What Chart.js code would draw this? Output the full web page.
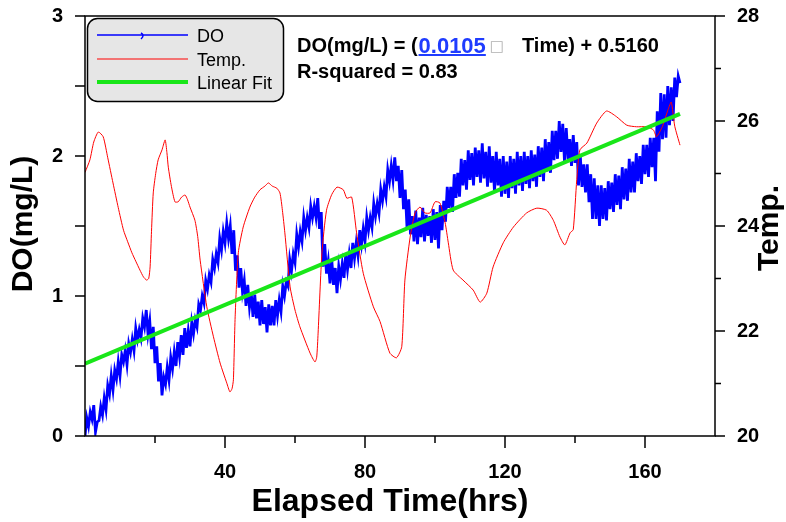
<!DOCTYPE html>
<html>
<head>
<meta charset="utf-8">
<script src="https://cdn.jsdelivr.net/npm/chart.js@4.4.0/dist/chart.umd.min.js"></script>
<style>
  html, body { margin: 0; padding: 0; background: #ffffff; }
  canvas { display: block; }
</style>
</head>
<body>
<canvas id="chart" width="786" height="522"></canvas>
<script>
// Dissolved oxygen logger readings, one every half hour from t = 0 h
const SAMPLE_STEP_HRS = 0.5;
const doValues = [
  0.00, 0.13, 0.07, 0.17, 0.12, 0.22, 0.03, 0.10, 0.11, 0.21, 0.15, 0.27, 0.19, 0.36, 0.30, 0.43, 0.33, 0.47, 0.41, 0.53,
  0.43, 0.58, 0.53, 0.61, 0.51, 0.66, 0.60, 0.69, 0.61, 0.77, 0.69, 0.76, 0.70, 0.84, 0.78, 0.90, 0.73, 0.82, 0.62, 0.78,
  0.52, 0.64, 0.39, 0.52, 0.29, 0.42, 0.37, 0.49, 0.40, 0.56, 0.48, 0.60, 0.50, 0.67, 0.57, 0.72, 0.58, 0.77, 0.63, 0.75,
  0.64, 0.81, 0.73, 0.83, 0.78, 0.94, 0.90, 1.00, 0.95, 1.11, 1.05, 1.15, 1.10, 1.26, 1.20, 1.30, 1.24, 1.41, 1.33, 1.46,
  1.38, 1.52, 1.41, 1.50, 1.30, 1.47, 1.18, 1.29, 1.06, 1.20, 1.03, 1.11, 0.93, 1.08, 0.92, 1.02, 0.85, 1.01, 0.84, 0.96,
  0.79, 0.97, 0.80, 0.92, 0.74, 0.94, 0.79, 0.93, 0.79, 0.97, 0.86, 0.97, 0.89, 1.07, 1.00, 1.10, 1.07, 1.26, 1.18, 1.30,
  1.24, 1.44, 1.35, 1.46, 1.39, 1.56, 1.47, 1.56, 1.49, 1.64, 1.56, 1.64, 1.56, 1.70, 1.48, 1.60, 1.21, 1.37, 1.16, 1.25,
  1.09, 1.26, 1.08, 1.20, 1.02, 1.21, 1.12, 1.23, 1.13, 1.30, 1.19, 1.30, 1.20, 1.38, 1.27, 1.38, 1.29, 1.47, 1.37, 1.48,
  1.39, 1.56, 1.47, 1.56, 1.49, 1.66, 1.57, 1.66, 1.59, 1.76, 1.68, 1.78, 1.71, 1.90, 1.82, 1.93, 1.83, 1.99, 1.82, 1.93,
  1.70, 1.90, 1.62, 1.76, 1.49, 1.69, 1.44, 1.57, 1.39, 1.61, 1.37, 1.56, 1.42, 1.63, 1.39, 1.58, 1.43, 1.57, 1.38, 1.62,
  1.40, 1.60, 1.34, 1.65, 1.47, 1.68, 1.53, 1.78, 1.63, 1.78, 1.60, 1.87, 1.70, 1.88, 1.71, 1.98, 1.79, 1.97, 1.76, 2.04,
  1.83, 2.02, 1.79, 2.06, 1.85, 2.04, 1.81, 2.09, 1.84, 2.03, 1.78, 2.07, 1.81, 2.00, 1.74, 2.03, 1.79, 1.98, 1.71, 2.00,
  1.73, 1.96, 1.70, 2.00, 1.77, 1.98, 1.73, 2.03, 1.79, 2.00, 1.75, 2.03, 1.80, 2.00, 1.77, 2.04, 1.82, 2.01, 1.78, 2.07,
  1.85, 2.06, 1.82, 2.12, 1.89, 2.10, 1.88, 2.18, 1.97, 2.18, 1.98, 2.25, 2.03, 2.23, 1.96, 2.20, 1.98, 2.12, 1.93, 2.15,
  1.95, 2.10, 1.79, 2.01, 1.78, 1.94, 1.74, 1.94, 1.67, 1.87, 1.55, 1.84, 1.55, 1.79, 1.50, 1.79, 1.55, 1.77, 1.54, 1.82,
  1.62, 1.81, 1.60, 1.87, 1.65, 1.86, 1.62, 1.92, 1.69, 1.91, 1.68, 1.98, 1.74, 1.96, 1.74, 2.02, 1.82, 2.00, 1.80, 2.08,
  1.87, 2.08, 1.85, 2.13, 1.92, 2.13, 1.82, 2.32, 2.03, 2.45, 2.12, 2.44, 2.13, 2.50, 2.22, 2.49, 2.25, 2.56, 2.42, 2.57,
  2.52
];

// Water temperature (right axis)
const tempHours = [
  0, 1.4, 2.5, 3.8, 5.2, 6.5, 8, 9.5, 11, 12.2, 13.4, 14.5, 15.7, 16.7, 17.6, 18.2, 18.6, 19, 19.5, 20.2,
  20.9, 22, 22.9, 23.4, 23.8, 24.7, 25.7, 26.6, 27.6, 28.6, 29.3, 30, 31.4, 32.2, 32.9, 34.8, 36.7, 38.6, 40.5, 41.4,
  42, 42.4, 42.9, 43.8, 45.2, 47.1, 48.5, 50, 51.4, 52.4, 53.5, 54.8, 55.7, 56.4, 57.1, 58.6, 60, 61.4, 64.3, 65.7,
  66.2, 66.6, 67.7, 69, 70.5, 72, 73.8, 74.8, 76.2, 77.6, 79.5, 82.4, 84.3, 87.1, 89, 90.5, 91.4, 92.9, 94.3, 95.7,
  97.1, 98.6, 100, 101.4, 102.9, 103.8, 105.2, 108, 110.9, 112.9, 114.8, 116.6, 119.5, 122.4, 126.2, 129.1, 131.9, 133.8, 135.7, 137.1,
  138.6, 139.5, 140.5, 141.4, 143.4, 146.2, 149, 151.9, 154.8, 157.6, 160.5, 162.4, 163.3, 165, 166.5, 167.5, 168.5, 170
];
const tempValues = [
  25.02, 25.26, 25.60, 25.79, 25.70, 25.30, 24.82, 24.35, 23.92, 23.70, 23.49, 23.33, 23.16, 23.03, 22.97, 23.00, 23.22, 23.90, 24.63, 25.00,
  25.26, 25.45, 25.64, 25.40, 25.12, 24.75, 24.46, 24.46, 24.55, 24.59, 24.50, 24.36, 24.11, 23.80, 23.35, 22.46, 21.89, 21.39, 21.01, 20.84,
  20.90, 21.07, 22.27, 23.49, 23.98, 24.36, 24.55, 24.69, 24.76, 24.82, 24.76, 24.72, 24.63, 24.30, 23.87, 22.84, 22.40, 22.08, 21.58, 21.41,
  21.50, 21.96, 23.49, 24.30, 24.60, 24.74, 24.69, 24.53, 24.55, 23.87, 23.10, 22.46, 22.18, 21.58, 21.49, 21.70, 22.97, 23.79, 24.25, 24.36,
  24.25, 24.25, 24.46, 24.44, 24.06, 23.68, 23.16, 22.97, 22.78, 22.55, 22.72, 23.22, 23.68, 23.98, 24.25, 24.34, 24.30, 24.11, 23.79, 23.64,
  23.87, 23.93, 24.88, 25.45, 25.58, 25.96, 26.19, 26.08, 25.92, 25.89, 25.89, 25.83, 25.70, 25.90, 26.20, 26.36, 25.90, 25.54
];

// Least-squares fit of DO against time
const fitSlope = 0.0105;
const fitIntercept = 0.5160;
const rSquared = 0.83;
const fitHours = [0, 170];

// Labelled ticks
const timeTickLabels = [40, 80, 120, 160];
const doTickLabels = [0, 1, 2, 3];
const tempTickLabels = [20, 22, 24, 26, 28];

const BLUE = '#0000ff';
const RED = '#ff0000';
const GREEN = '#19e619';
const FONT = '"Liberation Sans", Arial, sans-serif';

const doPoints = doValues.map((v, i) => ({ x: i * SAMPLE_STEP_HRS, y: v }));
const tempPoints = tempHours.map((t, i) => ({ x: t, y: tempValues[i] }));
const fitPoints = fitHours.map(t => ({ x: t, y: fitSlope * t + fitIntercept }));

// Fixed axis box sizes; tick labels may hang past the plot edges
function fixedSize(prop, size) {
  return s => {
    s[prop] = size;
    s.paddingTop = 0; s.paddingBottom = 0; s.paddingLeft = 0; s.paddingRight = 0;
  };
}

// Frame, tick marks, legend box, fit equation and axis titles
const decorations = {
  id: 'decorations',
  afterDatasetsDraw(chart) {
    const { ctx, chartArea: a, scales } = chart;
    ctx.save();
    ctx.strokeStyle = '#000';
    ctx.lineWidth = 1.5;
    ctx.strokeRect(a.left, a.top, a.right - a.left, a.bottom - a.top);
    ctx.beginPath();
    for (let v = 0; v <= 3.0001; v += 0.5) {
      const y = scales.y.getPixelForValue(v);
      ctx.moveTo(a.left - 10, y); ctx.lineTo(a.left, y);
    }
    for (let t = 20; t <= 160; t += 20) {
      const x = scales.x.getPixelForValue(t);
      const len = timeTickLabels.includes(t) ? 12 : 7;
      ctx.moveTo(x, a.bottom); ctx.lineTo(x, a.bottom + len);
    }
    for (let v = 20; v <= 28; v += 1) {
      const y = scales.y2.getPixelForValue(v);
      const len = tempTickLabels.includes(v) ? 10 : 6;
      ctx.moveTo(a.right, y); ctx.lineTo(a.right + len, y);
    }
    ctx.stroke();
    ctx.restore();
  },
  afterDraw(chart) {
    const { ctx } = chart;
    ctx.save();

    // legend
    ctx.beginPath();
    ctx.roundRect(87.5, 18.5, 196, 83, 10);
    ctx.fillStyle = '#e6e6e6';
    ctx.fill();
    ctx.lineWidth = 1.5;
    ctx.strokeStyle = '#000';
    ctx.stroke();

    const rows = [
      { label: 'DO', color: BLUE, width: 1.5, y: 35 },
      { label: 'Temp.', color: RED, width: 1, y: 59 },
      { label: 'Linear Fit', color: GREEN, width: 4, y: 82 }
    ];
    ctx.font = '18px ' + FONT;
    ctx.textAlign = 'left';
    ctx.textBaseline = 'alphabetic';
    rows.forEach(r => {
      ctx.beginPath();
      ctx.strokeStyle = r.color;
      ctx.lineWidth = r.width;
      ctx.moveTo(97, r.y); ctx.lineTo(188, r.y);
      ctx.stroke();
      ctx.fillStyle = '#000';
      ctx.fillText(r.label, 197, r.y + 6.5);
    });
    ctx.beginPath();
    ctx.strokeStyle = BLUE;
    ctx.lineWidth = 1.5;
    ctx.moveTo(141, 33);
    ctx.quadraticCurveTo(145, 35.5, 141, 39);
    ctx.stroke();

    // fit equation
    let x = 297;
    const base1 = 52, base2 = 78;
    ctx.font = 'bold 20px ' + FONT;
    ctx.fillStyle = '#000';
    const head = 'DO(mg/L) = (';
    ctx.fillText(head, x, base1);
    x += ctx.measureText(head).width + 1;
    ctx.font = 'bold 22px ' + FONT;
    ctx.fillStyle = '#1f3cff';
    const slopeText = fitSlope.toFixed(4);
    ctx.fillText(slopeText, x, base1 + 1);
    const sw = ctx.measureText(slopeText).width;
    ctx.fillRect(x, base1 + 2, sw, 2);
    x += sw + 4;
    ctx.font = '15px "DejaVu Sans"';
    ctx.fillStyle = '#b0b0b0';
    ctx.fillText('\u25A1', x, base1 - 1);
    x = 522;
    ctx.font = 'bold 20px ' + FONT;
    ctx.fillStyle = '#000';
    ctx.fillText('Time) + ' + fitIntercept.toFixed(4), x, base1);
    ctx.fillText('R-squared = ' + rSquared.toFixed(2), 297, base2);

    // axis titles
    ctx.textAlign = 'center';
    ctx.textBaseline = 'middle';
    ctx.font = 'bold 30px ' + FONT;
    ctx.save();
    ctx.translate(24, 224);
    ctx.rotate(-Math.PI / 2);
    ctx.fillText('DO(mg/L)', 0, 0);
    ctx.restore();
    ctx.save();
    ctx.translate(770, 228);
    ctx.rotate(-Math.PI / 2);
    ctx.fillText('Temp.', 0, 0);
    ctx.restore();
    ctx.font = 'bold 32px ' + FONT;
    ctx.textBaseline = 'alphabetic';
    ctx.fillText('Elapsed Time(hrs)', 390, 511);

    ctx.restore();
  }
};

const tickFont = { family: FONT, size: 20, weight: 'bold' };

new Chart(document.getElementById('chart'), {
  type: 'line',
  data: {
    datasets: [
      { label: 'DO', data: doPoints, yAxisID: 'y', borderColor: BLUE, borderWidth: 2.8,
        pointRadius: 0, tension: 0, order: 3 },
      { label: 'Temp.', data: tempPoints, yAxisID: 'y2', borderColor: RED, borderWidth: 1,
        pointRadius: 0, tension: 0.2, order: 2 },
      { label: 'Linear Fit', data: fitPoints, yAxisID: 'y', borderColor: GREEN, borderWidth: 4,
        pointRadius: 0, tension: 0, order: 1 }
    ]
  },
  options: {
    responsive: false,
    animation: false,
    devicePixelRatio: 1,
    layout: { padding: { top: 16, left: 0, right: 0, bottom: 0 } },
    plugins: { legend: { display: false }, tooltip: { enabled: false } },
    scales: {
      x: {
        type: 'linear', min: 0, max: 180,
        afterFit: fixedSize('height', 86),
        grid: { display: false, drawTicks: false },
        border: { display: false },
        ticks: {
          stepSize: 20, autoSkip: false, maxRotation: 0, padding: 24,
          color: '#000', font: tickFont,
          callback: v => timeTickLabels.includes(v) ? String(v) : ''
        }
      },
      y: {
        position: 'left', min: 0, max: 3,
        afterFit: fixedSize('width', 85),
        grid: { display: false, drawTicks: false },
        border: { display: false },
        ticks: {
          stepSize: 0.5, autoSkip: false, padding: 22,
          color: '#000', font: tickFont,
          callback: v => doTickLabels.includes(v) ? String(v) : ''
        }
      },
      y2: {
        position: 'right', min: 20, max: 28,
        afterFit: fixedSize('width', 71),
        grid: { display: false, drawTicks: false },
        border: { display: false },
        ticks: {
          stepSize: 1, autoSkip: false, padding: 22,
          color: '#000', font: tickFont,
          callback: v => tempTickLabels.includes(v) ? String(v) : ''
        }
      }
    }
  },
  plugins: [decorations]
});
</script>
</body>
</html>
